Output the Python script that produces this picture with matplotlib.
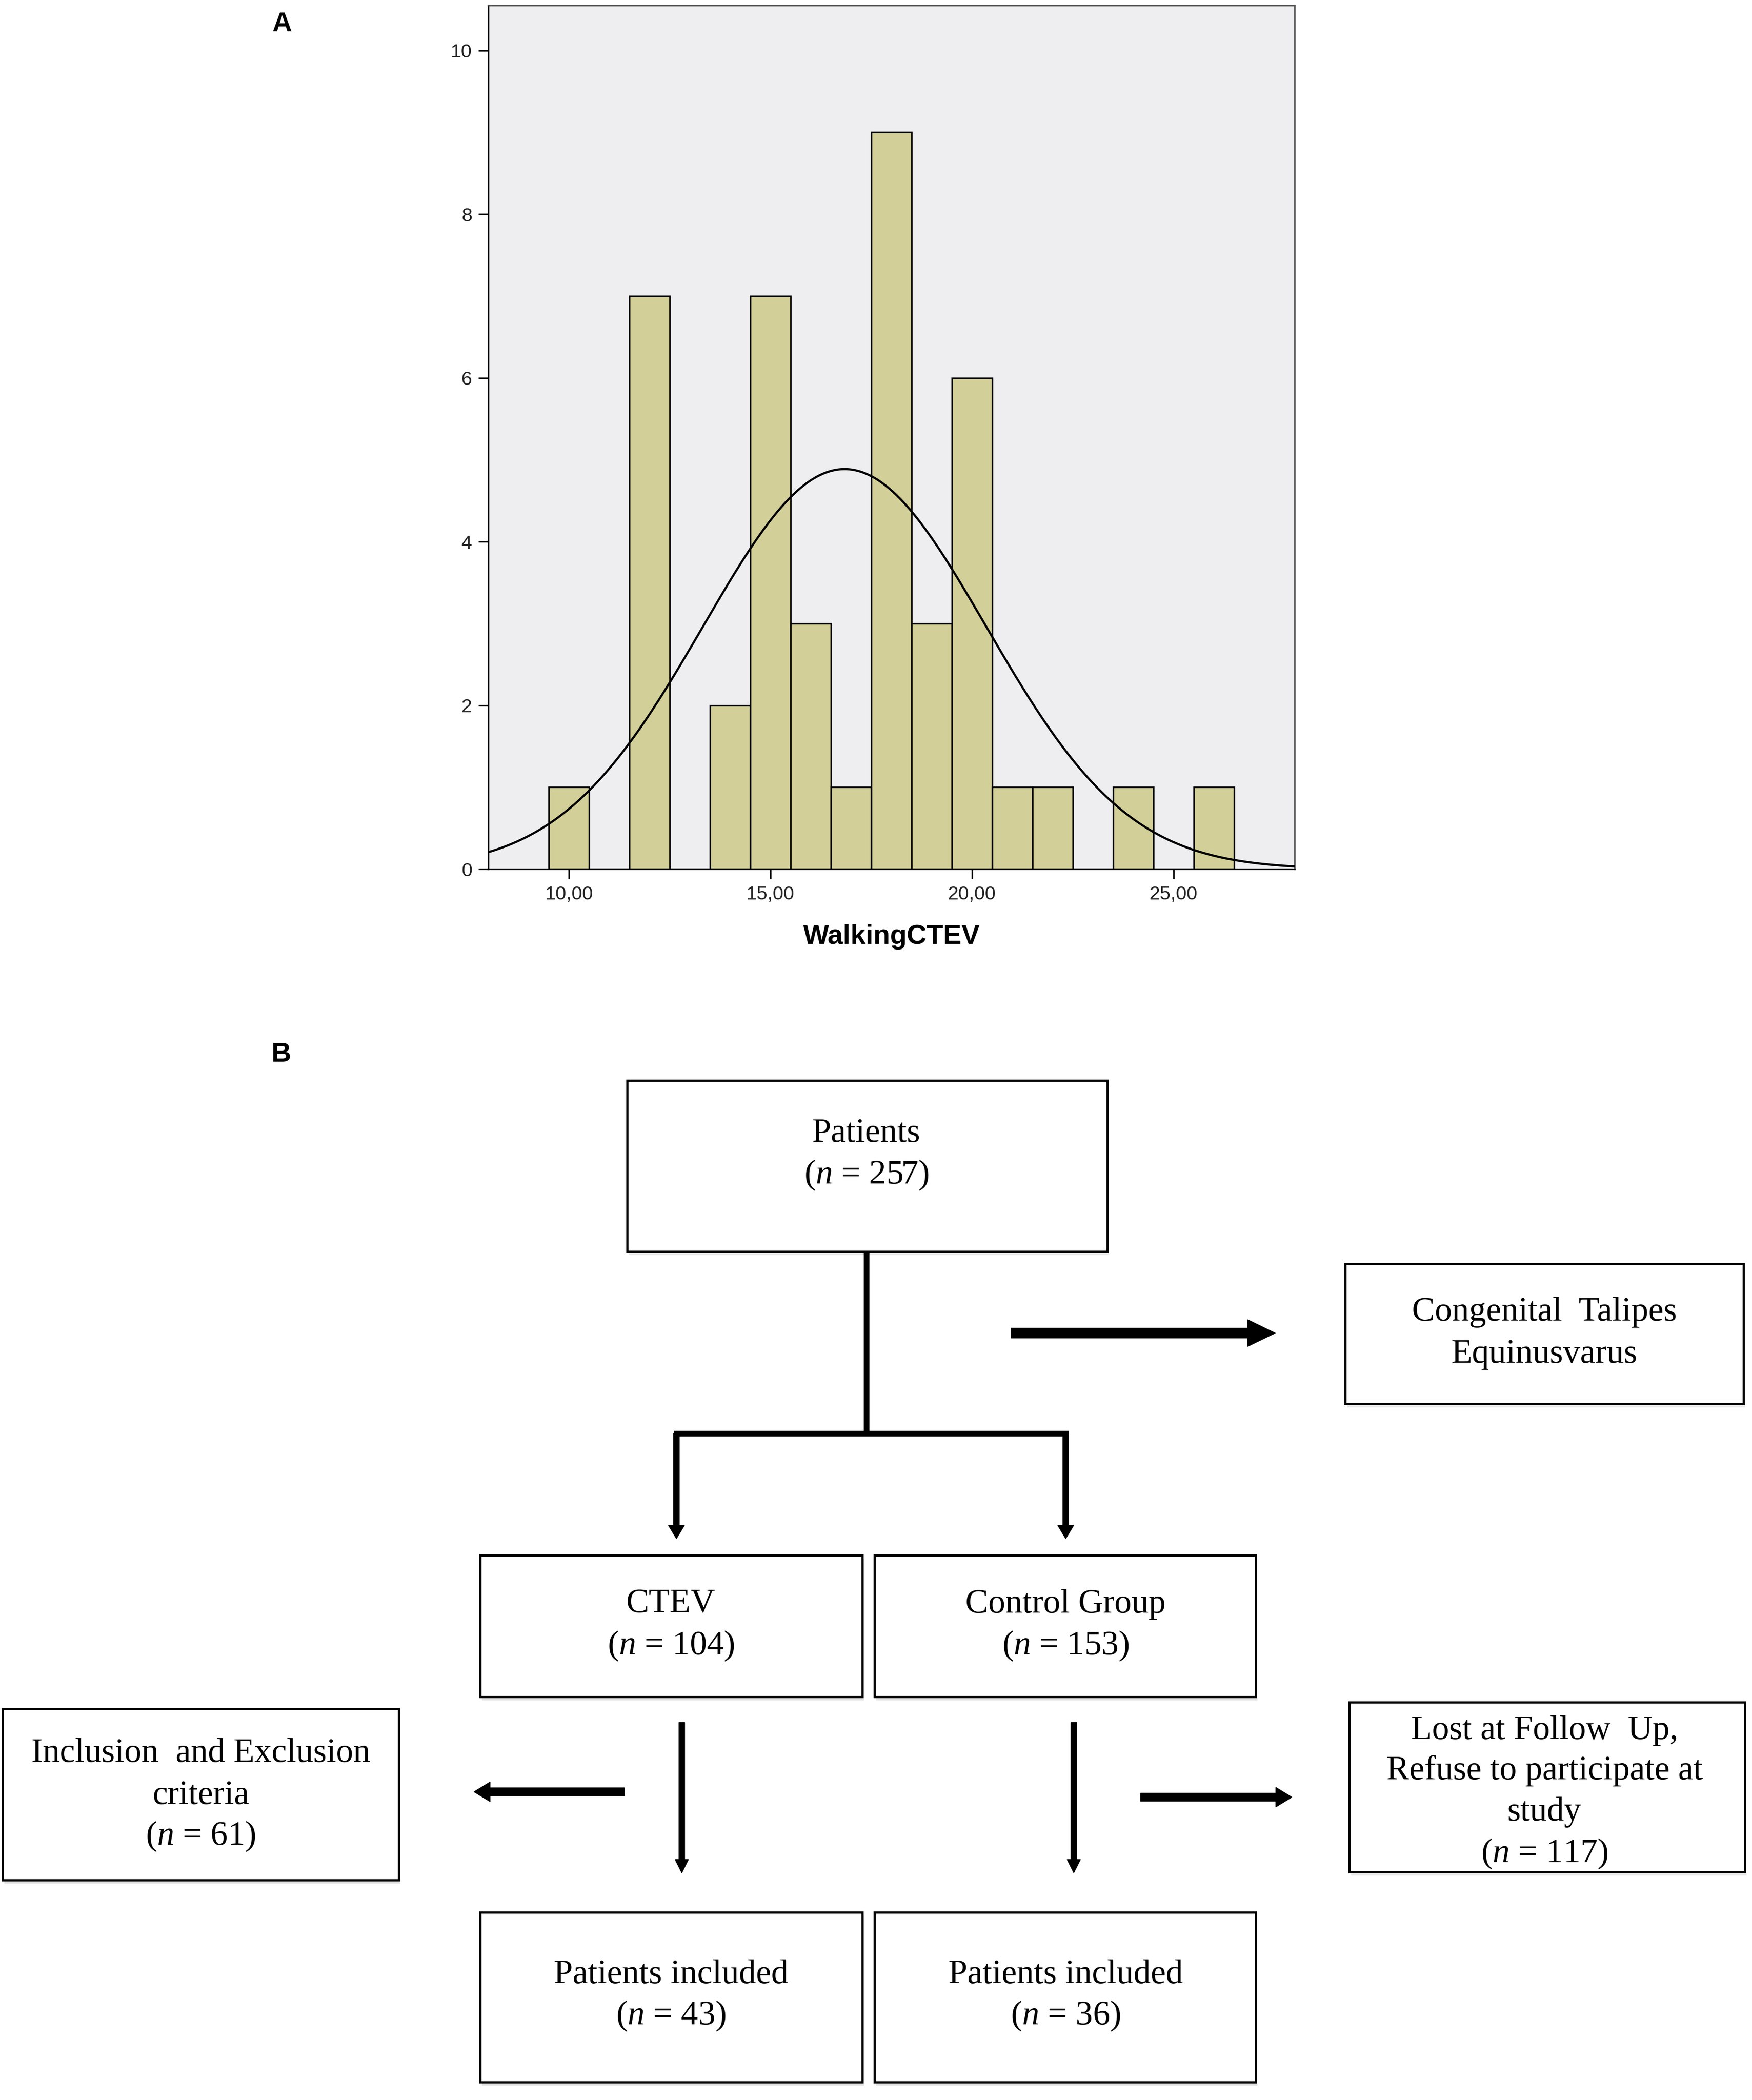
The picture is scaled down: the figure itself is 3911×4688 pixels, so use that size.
import numpy as np
import matplotlib
matplotlib.use('Agg')
import matplotlib.pyplot as plt
from matplotlib.patches import Rectangle, FancyArrow

plt.rcParams['mathtext.fontset'] = 'custom'
plt.rcParams['mathtext.rm'] = 'Liberation Serif'
plt.rcParams['mathtext.it'] = 'Liberation Serif:italic'

# histogram data (walking age, bins of width 1)
bin_centers = [10, 11, 12, 13, 14, 15, 16, 17, 18, 19, 20, 21, 22, 23, 24, 25, 26]
counts = [1, 0, 7, 0, 2, 7, 3, 1, 9, 3, 6, 1, 1, 0, 1, 0, 1]
x_ticks = [10, 15, 20, 25]
x_ticklabels = ['10,00', '15,00', '20,00', '25,00']
y_ticks = [0, 2, 4, 6, 8, 10]

# flowchart data
box_titles = {
    'patients': ['Patients'],
    'ctev_cong': ['Congenital  Talipes', 'Equinusvarus'],
    'ctev': ['CTEV'],
    'control': ['Control Group'],
    'excl': ['Inclusion  and Exclusion', 'criteria'],
    'lost': ['Lost at Follow  Up,', 'Refuse to participate at', 'study'],
    'incl_ctev': ['Patients included'],
    'incl_ctrl': ['Patients included'],
}
box_n = {
    'patients': 257, 'ctev_cong': None, 'ctev': 104, 'control': 153,
    'excl': 61, 'lost': 117, 'incl_ctev': 43, 'incl_ctrl': 36,
}

W, H = 3911, 4688
fig = plt.figure(figsize=(W / 100, H / 100), dpi=100)

# ---- panel A: histogram ----
ax = fig.add_axes([1090 / W, 1 - 1940 / H, 1800 / W, 1928 / H])
ax.set_facecolor('#EEEEF0')
ax.bar(bin_centers, counts, width=1.0, color='#D3CF98', edgecolor='black', linewidth=2.5, zorder=2)

c = np.array(counts, dtype=float)
xc = np.array(bin_centers, dtype=float)
n_tot = c.sum()
mu = (c * xc).sum() / n_tot
sd = np.sqrt((c * (xc - mu) ** 2).sum() / (n_tot - 1))
xs = np.linspace(8, 28, 400)
ys = n_tot * 1.0 / (sd * np.sqrt(2 * np.pi)) * np.exp(-0.5 * ((xs - mu) / sd) ** 2)
ax.plot(xs, ys, color='black', linewidth=3.5, zorder=3)

ax.set_xlim(8, 28)
ax.set_ylim(0, 10.55)
ax.set_xticks(x_ticks)
ax.set_xticklabels(x_ticklabels)
ax.set_yticks(y_ticks)
for sp in ax.spines.values():
    sp.set_linewidth(2.5)
ax.spines['top'].set_color('#555555')
ax.spines['right'].set_color('#555555')
ax.tick_params(axis='both', length=16, width=2.5, labelsize=31, colors='black', labelcolor='#222222', pad=10)
ax.set_xlabel('WalkingCTEV', fontsize=44, fontweight='bold', family='Liberation Sans', labelpad=34)
for lab in ax.get_xticklabels() + ax.get_yticklabels():
    lab.set_family('Liberation Sans')

# ---- overlay for panel labels and flowchart (pixel coords) ----
ov = fig.add_axes([0, 0, 1, 1])
ov.set_xlim(0, W)
ov.set_ylim(H, 0)
ov.axis('off')
ov.patch.set_alpha(0)

ov.text(630, 54, 'A', fontsize=44, fontweight='bold', family='Liberation Sans', ha='center', va='center')
ov.text(628, 2355, 'B', fontsize=44, fontweight='bold', family='Liberation Sans', ha='center', va='center')

boxes = {
    'patients': (1400, 2412, 2472, 2794, 1934, [2530, 2623]),
    'ctev_cong': (3003, 2821, 3892, 3134, 3448, [2930, 3023]),
    'ctev': (1072, 3472, 1925, 3788, 1498, [3581, 3674]),
    'control': (1952, 3472, 2803, 3788, 2379, [3581, 3674]),
    'excl': (6, 3815, 890, 4197, 448, [3914, 4008, 4099]),
    'lost': (3012, 3800, 3895, 4179, 3448, [3864, 3953, 4046, 4138]),
    'incl_ctev': (1072, 4269, 1925, 4648, 1498, [4408, 4500]),
    'incl_ctrl': (1952, 4269, 2803, 4648, 2379, [4408, 4500]),
}
fs = 55
for key, (x0, y0, x1, y1, cx, ly) in boxes.items():
    # faint shadow then box
    ov.add_patch(Rectangle((x0 + 4, y0 + 8), x1 - x0, y1 - y0, facecolor='#E6E6E6', edgecolor='none', zorder=1))
    ov.add_patch(Rectangle((x0, y0), x1 - x0, y1 - y0, facecolor='white', edgecolor='black', linewidth=3.5, zorder=2))
    lines = list(box_titles[key])
    if box_n[key] is not None:
        lines.append(r'($\mathit{n}$ = %d)' % box_n[key])
    for txt, yy in zip(lines, ly):
        ov.text(cx, yy, txt, fontsize=fs, family='Liberation Serif', ha='center', va='center', zorder=3)

# connectors
ov.plot([1934, 1934], [2794, 3200], color='black', linewidth=9, solid_capstyle='butt', zorder=2)
ov.plot([1510, 2379], [3200, 3200], color='black', linewidth=9, solid_capstyle='projecting', zorder=2)


def arrow(x, y, dx, dy, w, hw, hl):
    ov.add_patch(FancyArrow(x, y, dx, dy, width=w, head_width=hw, head_length=hl,
                            length_includes_head=True, color='black', zorder=2))


arrow(1510, 3200, 0, 235, 13, 36, 30)
arrow(2379, 3200, 0, 235, 13, 36, 30)
arrow(2257, 2976, 590, 0, 22, 60, 62)
arrow(1522, 3845, 0, 336, 13, 30, 30)
arrow(2397, 3845, 0, 336, 13, 30, 30)
arrow(1394, 4000, -336, 0, 18, 44, 36)
arrow(2546, 4012, 338, 0, 18, 44, 36)

fig.savefig('out.png', dpi=100, facecolor='white')
